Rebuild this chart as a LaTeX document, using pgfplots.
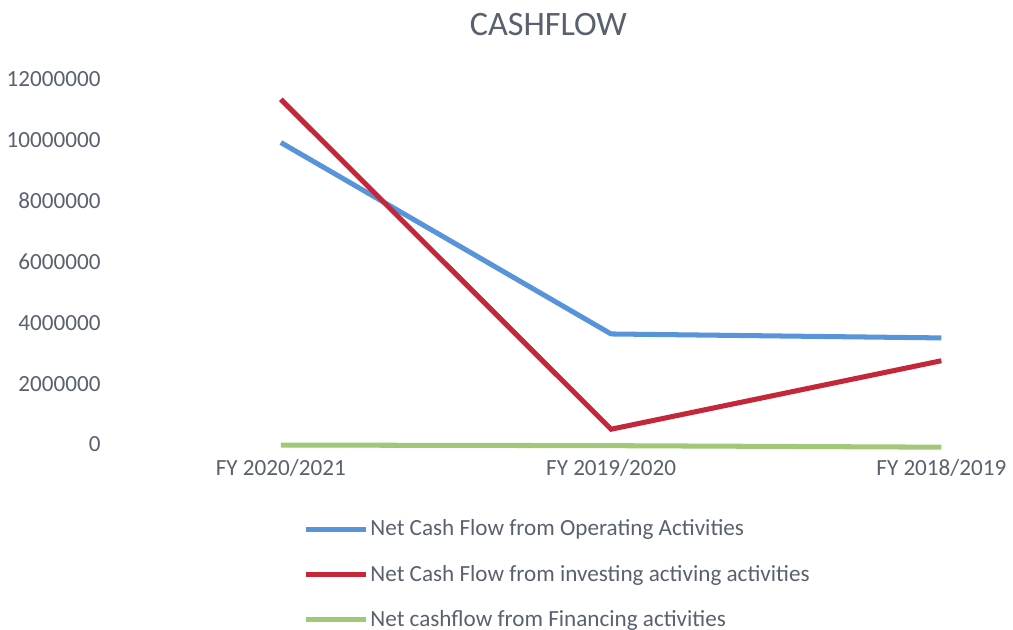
\documentclass[border=0pt]{standalone}
\usepackage{pgfplots}
\pgfplotsset{compat=1.18}
\usepackage{fontspec}
\setmainfont{Carlito}
\definecolor{txt}{RGB}{89,97,110}
\definecolor{opblue}{RGB}{88,148,218}
\definecolor{invred}{RGB}{196,38,58}
\definecolor{fingreen}{RGB}{160,200,120}
\begin{document}
\begin{tikzpicture}
\begin{axis}[
  scale only axis, width=430pt, height=181.5pt,
  xmin=-0.5, xmax=2.12, ymin=0, ymax=12000000,
  clip=false,
  axis line style={draw=none}, tick style={draw=none},
  xtick={0,1,2}, xticklabels={FY 2020/2021,FY 2019/2020,FY 2018/2019},
  ytick={0,2000000,4000000,6000000,8000000,10000000,12000000},
  scaled y ticks=false,
  yticklabel={\pgfmathprintnumber[fixed,precision=0,1000 sep={}]{\tick}},
  /pgf/number format/assume math mode=true,
  ticklabel style={font=\fontsize{11.5}{13}\selectfont, text=txt},
  yticklabel style={xshift=-4pt},
  xticklabel style={yshift=-4pt},
  title={CASHFLOW}, title style={font=\fontsize{17}{20}\selectfont, text=txt, yshift=12pt},
  legend cell align=left,
  legend style={draw=none, fill=none, font=\fontsize{11.5}{13}\selectfont, text=txt,
    at={(rel axis cs:0.216,-0.2055)}, anchor=north west, row sep=13pt, inner sep=0pt,
    nodes={inner xsep=1pt, inner ysep=0pt}},
  legend image code/.code={\draw[#1] (0pt,0pt) -- (30pt,0pt);},
]
\addplot[opblue, line width=2.5pt] coordinates {(0,9920000)(1,3630000)(2,3500000)};
\addlegendentry{Net Cash Flow from Operating Activities}
\addplot[invred, line width=2.5pt] coordinates {(0,11340000)(1,500000)(2,2750000)};
\addlegendentry{Net Cash Flow from investing activing activities}
\addplot[fingreen, line width=2.5pt] coordinates {(0,-20000)(1,-40000)(2,-90000)};
\addlegendentry{Net cashflow from Financing activities}
\path (rel axis cs:0.5,1) ++(0,38pt);
\end{axis}
\end{tikzpicture}
\end{document}
